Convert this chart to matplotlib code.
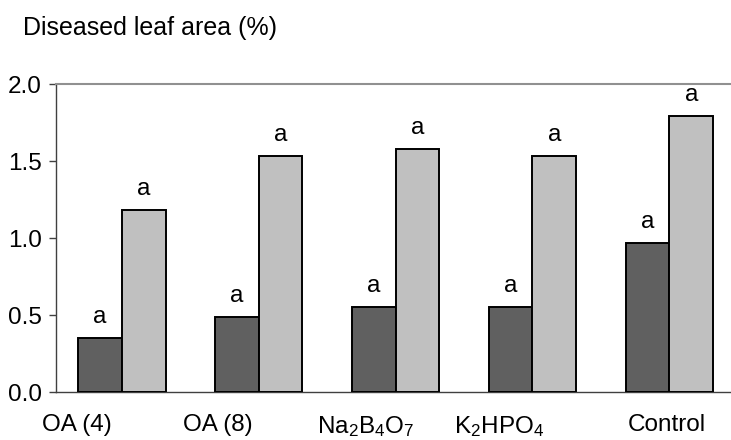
import numpy as np
import matplotlib
matplotlib.use('Agg')
import matplotlib.pyplot as plt

plt.rcParams['font.family'] = ['Liberation Sans', 'DejaVu Sans']
plt.rcParams['mathtext.fontset'] = 'custom'
plt.rcParams['mathtext.rm'] = 'Liberation Sans'
plt.rcParams['mathtext.it'] = 'Liberation Sans'
plt.rcParams['mathtext.default'] = 'regular'

# data
groups = ['OA (4)', 'OA (8)', r'Na$_2$B$_4$O$_7$', r'K$_2$HPO$_4$', 'Control']
dark_vals = [0.35, 0.49, 0.55, 0.55, 0.97]
light_vals = [1.18, 1.53, 1.58, 1.53, 1.79]
dark_letters = ['a', 'a', 'a', 'a', 'a']
light_letters = ['a', 'a', 'a', 'a', 'a']
# label shift from group centre (labels are not centred under groups)
label_shift = [-0.33, -0.30, -0.22, -0.24, -0.02]

fs = 17.5
w = 0.32
x = np.arange(len(groups))

fig = plt.figure(figsize=(7.31, 4.40), dpi=100)
ax = fig.add_axes([0.0766, 0.109, 0.9234, 0.700])

b1 = ax.bar(x - w/2, dark_vals, w, color='#606060', edgecolor='black', linewidth=1.4, zorder=3)
b2 = ax.bar(x + w/2, light_vals, w, color='#c0c0c0', edgecolor='black', linewidth=1.4, zorder=3)

for bars, letters in ((b1, dark_letters), (b2, light_letters)):
    for r, t in zip(bars, letters):
        ax.annotate(t, (r.get_x() + r.get_width()/2, r.get_height()),
                    xytext=(0, 10.8), textcoords='offset points',
                    ha='center', va='baseline', fontsize=fs)

ax.set_xlim(-0.48, 4.45)
ax.set_ylim(0, 2.0)
ax.set_yticks([0, 0.5, 1.0, 1.5, 2.0])
ax.set_yticklabels(['0.0', '0.5', '1.0', '1.5', '2.0'], fontsize=fs)
ax.set_xticks(x + np.array(label_shift))
ax.set_xticklabels(groups, fontsize=fs)
ax.tick_params(axis='x', length=0, pad=16)
ax.tick_params(axis='y', length=5, width=1, color='#404040', pad=5)

ax.spines['right'].set_visible(False)
ax.spines['top'].set_color('#909090')
ax.spines['top'].set_linewidth(1.5)
ax.spines['left'].set_color('#404040')
ax.spines['bottom'].set_color('#404040')
ax.spines['left'].set_linewidth(1)
ax.spines['bottom'].set_linewidth(1)

fig.text(23/731, 1 - 28/440, 'Diseased leaf area (%)', fontsize=18, ha='left', va='center')

fig.savefig('out.png', dpi=100)
